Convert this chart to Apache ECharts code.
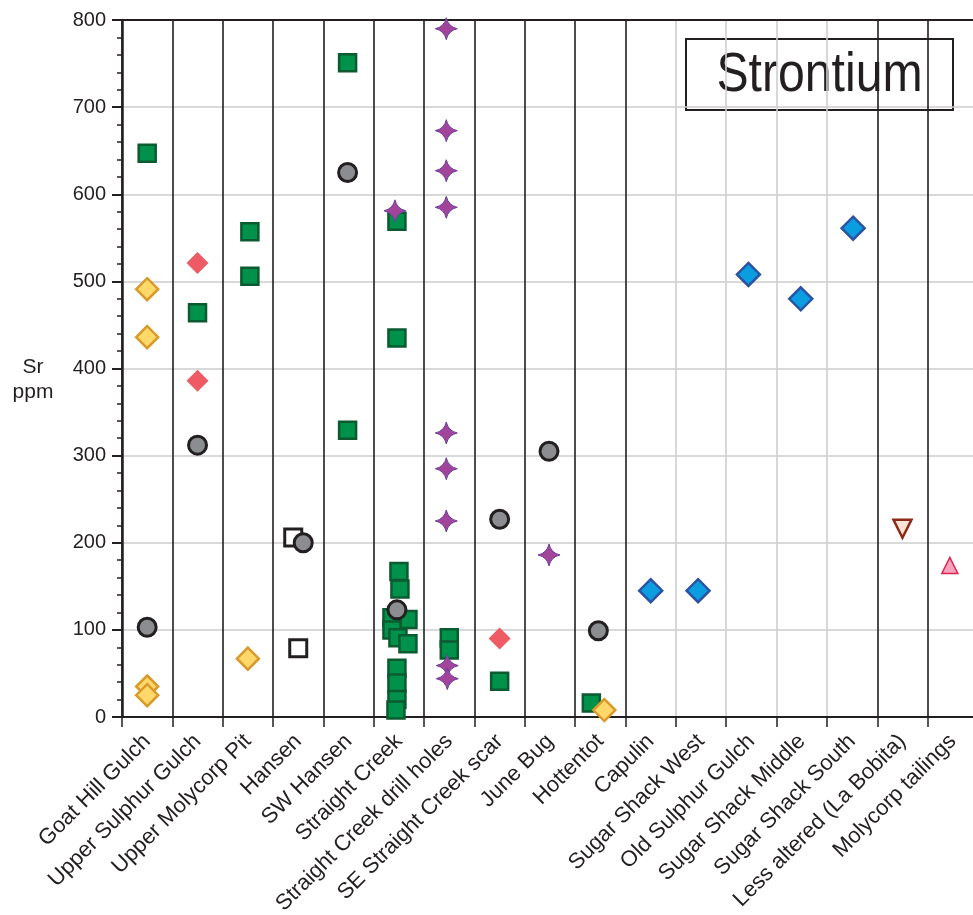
<!DOCTYPE html>
<html>
<head>
<meta charset="utf-8">
<script src="https://cdn.jsdelivr.net/npm/echarts@6/dist/echarts.min.js"></script>
<style>
  html, body { margin: 0; padding: 0; background: #fff; }
  #main { width: 973px; height: 915px; }
</style>
</head>
<body>
<div id="main"></div>
<script>
var categories = [
  'Goat Hill Gulch', 'Upper Sulphur Gulch', 'Upper Molycorp Pit', 'Hansen',
  'SW Hansen', 'Straight Creek', 'Straight Creek drill holes',
  'SE Straight Creek scar', 'June Bug', 'Hottentot', 'Capulin',
  'Sugar Shack West', 'Old Sulphur Gulch', 'Sugar Shack Middle',
  'Sugar Shack South', 'Less altered (La Bobita)', 'Molycorp tailings'
];

// [category, Sr ppm]
var greenSquares = [
  ['Goat Hill Gulch', 647], ['Upper Sulphur Gulch', 464],
  ['Upper Molycorp Pit', 557], ['Upper Molycorp Pit', 506],
  ['SW Hansen', 751], ['SW Hansen', 329],
  ['Straight Creek', 569], ['Straight Creek', 435], ['Straight Creek', 167],
  ['Straight Creek', 147], ['Straight Creek', 112], ['Straight Creek', 114],
  ['Straight Creek', 100], ['Straight Creek', 91], ['Straight Creek', 84],
  ['Straight Creek', 56], ['Straight Creek', 39], ['Straight Creek', 20],
  ['Straight Creek', 8],
  ['Straight Creek drill holes', 91], ['Straight Creek drill holes', 77],
  ['SE Straight Creek scar', 41], ['Hottentot', 16]
];
var greenSquareShift = [0, 0, 2, 2, -1, -1, -2, -2, 0, 1, 9, -7, -7, -1, 9, -2, -2, -2, -3, 0, 0, 0, -9];

var openSquares = [['Hansen', 206], ['Hansen', 79]];
var openSquareShift = [-5, 0];

var grayCircles = [
  ['Goat Hill Gulch', 103], ['Upper Sulphur Gulch', 312], ['Hansen', 200],
  ['SW Hansen', 625], ['Straight Creek', 123], ['SE Straight Creek scar', 227],
  ['June Bug', 305], ['Hottentot', 99]
];
var grayCircleShift = [0, 0, 5, -1, -2, 0, -1, -2];

var redDiamonds = [
  ['Upper Sulphur Gulch', 521], ['Upper Sulphur Gulch', 386],
  ['SE Straight Creek scar', 90]
];

var yellowDiamonds = [
  ['Goat Hill Gulch', 491], ['Goat Hill Gulch', 436], ['Goat Hill Gulch', 35],
  ['Goat Hill Gulch', 25], ['Upper Molycorp Pit', 67], ['Hottentot', 8]
];
var yellowDiamondShift = [0, 0, 0, 0, 0, 4];

var purpleStars = [
  ['Straight Creek', 581],
  ['Straight Creek drill holes', 790], ['Straight Creek drill holes', 673],
  ['Straight Creek drill holes', 627], ['Straight Creek drill holes', 585],
  ['Straight Creek drill holes', 326], ['Straight Creek drill holes', 285],
  ['Straight Creek drill holes', 225], ['Straight Creek drill holes', 59],
  ['Straight Creek drill holes', 44], ['June Bug', 186]
];
var purpleStarShift = [-4, -3, -3, -3, -3, -3, -3, -3, -2, -2, -1];

var blueDiamonds = [
  ['Capulin', 145], ['Sugar Shack West', 145], ['Old Sulphur Gulch', 508],
  ['Sugar Shack Middle', 480], ['Sugar Shack South', 561]
];
var blueDiamondShift = [0, -3, -3, -1, 1];

var downTriangles = [['Less altered (La Bobita)', 216]];
var upTriangles = [['Molycorp tailings', 174]];
var upTriangleShift = [-3];

// column divider colours: black between groups, grey inside the Sugar Shack block
var dividerColors = [];
for (var i = 0; i <= categories.length; i++) {
  dividerColors.push(i >= 11 && i <= 14 ? '#cfcfcf' : '#231f20');
}

var starPath = 'path://M0,-10 Q1.8,-1.8 10,0 Q1.8,1.8 0,10 Q-1.8,1.8 -10,0 Q-1.8,-1.8 0,-10 Z';

function withShift(points, shift) {
  return points.map(function (p, i) {
    return { value: p, symbolOffset: [shift ? shift[i] : 0, 0] };
  });
}

function marks(name, points, shift, symbol, size, style, extra) {
  style.opacity = 1;
  var s = {
    name: name,
    type: 'scatter',
    data: withShift(points, shift),
    symbol: symbol,
    symbolSize: size,
    itemStyle: style,
    emphasis: { disabled: true }
  };
  return Object.assign(s, extra || {});
}

var chartDom = document.getElementById('main');
var myChart = echarts.init(chartDom);
var option;

option = {
  animation: false,
  grid: { left: 122, right: -5, top: 20, bottom: 198, outerBoundsMode: 'none' },
  xAxis: [
    {
      type: 'category',
      data: categories,
      boundaryGap: true,
      axisLine: { lineStyle: { color: '#231f20', width: 2 } },
      axisTick: { show: true, interval: 0, length: 10, lineStyle: { color: '#231f20', width: 1.5 } },
      axisLabel: {
        interval: 0, rotate: 45, margin: 21,
        color: '#231f20', fontSize: 22, fontFamily: 'Liberation Sans, Arial, sans-serif'
      },
      splitLine: { show: true, interval: 0, lineStyle: { color: dividerColors, width: 1.6 } }
    },
    {
      type: 'category',
      data: categories,
      position: 'top',
      axisLine: { lineStyle: { color: '#231f20', width: 2 } },
      axisTick: { show: false },
      axisLabel: { show: false },
      splitLine: { show: false }
    }
  ],
  yAxis: {
    type: 'value',
    min: 0,
    max: 800,
    interval: 100,
    axisLine: { show: true, lineStyle: { color: '#231f20', width: 2.5 } },
    axisTick: { show: true, length: 10, lineStyle: { color: '#231f20', width: 2 } },
    minorTick: { show: true, splitNumber: 5, length: 5, lineStyle: { color: '#231f20', width: 1.5 } },
    axisLabel: { margin: 16, color: '#231f20', fontSize: 20, fontFamily: 'Liberation Sans, Arial, sans-serif' },
    splitLine: { show: true, lineStyle: { color: '#cccccc', width: 1.5 } }
  },
  graphic: [
    {
      type: 'text',
      left: 10,
      top: 355,
      style: {
        text: 'Sr\nppm',
        fill: '#231f20',
        font: '21px "Liberation Sans", Arial, sans-serif',
        textAlign: 'center',
        lineHeight: 25,
        width: 46
      }
    },
    {
      type: 'group',
      left: 685,
      top: 38,
      z: 100,
      children: [
        {
          type: 'rect',
          shape: { x: 0, y: 0, width: 267, height: 71 },
          style: { fill: '#ffffff', stroke: '#231f20', lineWidth: 2 }
        },
        {
          type: 'text',
          x: 133.5,
          y: 37,
          scaleX: 0.86,
          style: {
            text: 'Strontium',
            fill: '#231f20',
            font: '56px "Liberation Sans", Arial, sans-serif',
            textAlign: 'center',
            textVerticalAlign: 'middle'
          }
        }
      ]
    }
  ],
  series: [
    marks('Green square', greenSquares, greenSquareShift, 'rect', 17,
      { color: '#00924a', borderColor: '#0b5a30', borderWidth: 2.5 }),
    marks('Open square', openSquares, openSquareShift, 'rect', 17,
      { color: '#ffffff', borderColor: '#231f20', borderWidth: 3 }),
    marks('Gray circle', grayCircles, grayCircleShift, 'circle', 18,
      { color: '#8b8d90', borderColor: '#231f20', borderWidth: 3 }),
    marks('Red diamond', redDiamonds, null, 'diamond', 22,
      { color: '#ef5b64' }),
    marks('Yellow diamond', yellowDiamonds, yellowDiamondShift, 'diamond', 22,
      { color: '#ffd86a', borderColor: '#d99a2b', borderWidth: 2.5 }),
    marks('Purple star', purpleStars, purpleStarShift, starPath, 22,
      { color: '#a3449b', borderColor: '#6c3f9e', borderWidth: 1 }),
    marks('Blue diamond', blueDiamonds, blueDiamondShift, 'diamond', 23,
      { color: '#0a9ee0', borderColor: '#2c52a4', borderWidth: 2.5 }),
    marks('Down triangle', downTriangles, null, 'triangle', 18,
      { color: '#fde3d5', borderColor: '#8c2a18', borderWidth: 2.5 }, { symbolRotate: 180 }),
    marks('Up triangle', upTriangles, upTriangleShift, 'triangle', 16,
      { color: '#f4a3bd', borderColor: '#e02255', borderWidth: 1.5 })
  ]
};

option && myChart.setOption(option);
</script>
</body>
</html>
